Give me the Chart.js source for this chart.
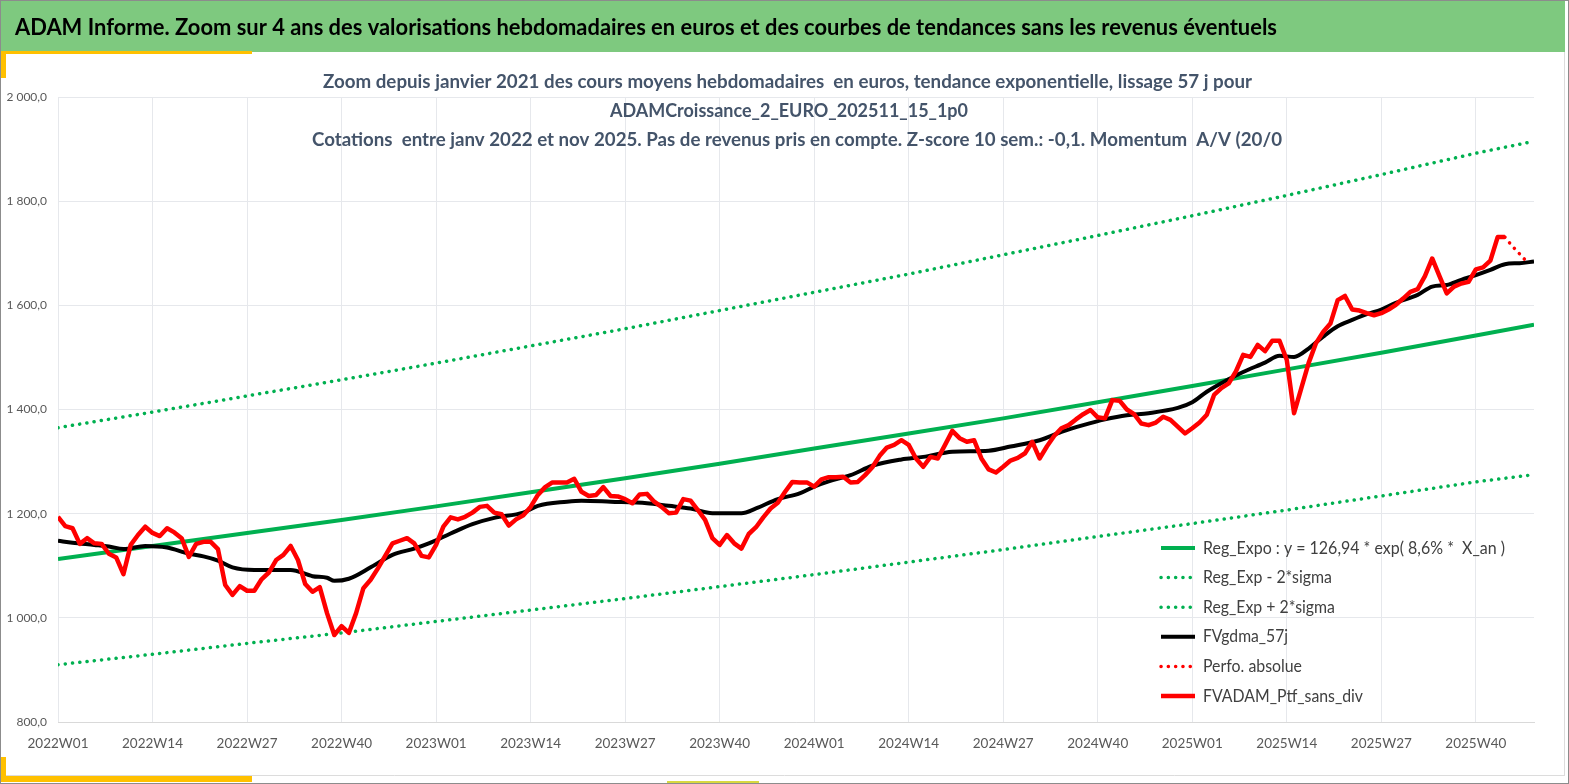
<!DOCTYPE html>
<html>
<head>
<meta charset="UTF-8" />
<title>ADAM Informe</title>
<style>
  html, body { margin: 0; padding: 0; background: #fff; }
  #wrap { position: relative; width: 1569px; height: 784px; }
</style>
</head>
<body>
<div id="wrap"><canvas id="myChart" width="1569" height="784"></canvas></div>

<script src="https://cdn.jsdelivr.net/npm/chart.js"></script>
<script>
// x axis tick labels, one every 13 weeks (index 0 = 2022W01)
const tickLabels = ['2022W01','2022W14','2022W27','2022W40','2023W01','2023W14','2023W27','2023W40',
                    '2024W01','2024W14','2024W27','2024W40','2025W01','2025W14','2025W27','2025W40'];

// trend curves, read at the gridlines
const trendWeeks = [0,13,26,39,52,65,78,91,104,117,130,143,156,169,182,195,203];
const regExpo = [1113,1138,1163,1188,1214,1241,1268,1296,1325,1354,1383,1414,1445,1477,1509,1542,1563];
const regLow  = [910,930,951,971,993,1015,1037,1060,1083,1107,1131,1156,1181,1207,1234,1261,1275];
const regHigh = [1365,1395,1426,1457,1489,1522,1555,1590,1625,1660,1697,1734,1772,1811,1851,1892,1915];

// weekly valuation FVADAM_Ptf_sans_div (weeks 0..199)
const ptfValues = [
  1194,1176,1172,1142,1153,1143,1142,1123,1116,1084,1140,1159,1175,1163,1157,1172,1164,1153,1117,1142,
  1146,1146,1132,1063,1044,1061,1052,1052,1074,1087,1111,1121,1138,1111,1065,1050,1059,1009,967,984,
  971,1009,1057,1073,1095,1119,1143,1148,1153,1143,1119,1116,1140,1175,1193,1189,1194,1202,1213,1215,
  1202,1199,1177,1189,1197,1213,1236,1251,1260,1260,1260,1267,1242,1234,1236,1251,1234,1233,1228,1220,
  1237,1238,1223,1213,1201,1202,1228,1225,1207,1188,1153,1140,1159,1143,1133,1161,1174,1193,1210,1221,
  1242,1261,1260,1260,1252,1266,1270,1270,1271,1260,1261,1274,1289,1311,1327,1332,1341,1332,1306,1290,
  1309,1306,1332,1359,1345,1338,1341,1306,1285,1279,1290,1302,1307,1316,1338,1306,1329,1349,1364,1370,
  1381,1391,1399,1385,1383,1418,1417,1400,1391,1373,1370,1375,1386,1380,1367,1354,1364,1375,1390,1428,
  1441,1450,1473,1505,1501,1524,1512,1532,1532,1495,1393,1441,1489,1527,1549,1565,1610,1618,1592,1590,
  1585,1581,1585,1592,1601,1613,1626,1631,1656,1690,1656,1623,1636,1642,1645,1669,1673,1686,1731,1731
];

// smoothed curve FVgdma_57j
const gdmaWeeks  = [0,2,5,7,9,12,15,18,20,22,24,27,32,35,37,38,40,43,46,49,51,54,57,60,64,66,70,72,76,81,
                    84,87,90,94,96,99,102,104,106,109,112,116,119,123,128,131,135,138,141,144,147,150,154,156,158,
                    161,163,166,168,170,172,174,176,178,180,182,184,187,189,191,193,195,197,199,201,203];
const gdmaValues = [1148,1144,1140,1137,1132,1138,1135,1123,1118,1110,1097,1092,1092,1080,1077,1071,1075,1097,1121,1133,
                    1143,1162,1180,1192,1202,1215,1223,1225,1223,1220,1215,1210,1201,1201,1210,1228,1239,1252,1262,1274,
                    1292,1304,1309,1319,1321,1329,1341,1357,1370,1381,1389,1393,1403,1414,1434,1458,1472,1490,1503,1501,
                    1517,1540,1560,1572,1583,1592,1605,1620,1636,1639,1649,1658,1668,1679,1681,1684];

// Perfo. absolue (dotted end)
const perfWeeks  = [199,200,201,202];
const perfValues = [1731,1714,1699,1684];

const pts = (xs, ys) => ys.map((v, k) => ({ x: xs[k], y: v }));
const ptfWeeks = ptfValues.map((v, i) => i);

function frNum(v) {
  const s = v.toFixed(1).split('.');
  return s[0].replace(/\B(?=(\d{3})+(?!\d))/g, ' ') + ',' + s[1];
}

// text squeezed/stretched to a target width (the original uses Calibri)
function fitText(ctx, text, x, y, width) {
  const w = ctx.measureText(text).width;
  ctx.save();
  ctx.translate(x, y);
  ctx.scale(width / w, 1);
  ctx.fillText(text, 0, 0);
  ctx.restore();
}

const dotted = [0.1, 7.2];

const data = {
  datasets: [
    { label: 'Reg_Expo : y = 126,94 * exp( 8,6% *  X_an )', data: pts(trendWeeks, regExpo),
      borderColor: '#00b050', borderWidth: 4, order: 3 },
    { label: 'Reg_Exp - 2*sigma', data: pts(trendWeeks, regLow),
      borderColor: '#00b050', borderWidth: 3.5, borderDash: dotted, borderCapStyle: 'round', order: 4 },
    { label: 'Reg_Exp + 2*sigma', data: pts(trendWeeks, regHigh),
      borderColor: '#00b050', borderWidth: 3.5, borderDash: dotted, borderCapStyle: 'round', order: 5 },
    { label: 'FVgdma_57j', data: pts(gdmaWeeks, gdmaValues),
      borderColor: '#000000', borderWidth: 4, cubicInterpolationMode: 'monotone', order: 2 },
    { label: 'Perfo. absolue', data: pts(perfWeeks, perfValues),
      borderColor: '#ff0000', borderWidth: 3.5, borderDash: dotted, borderCapStyle: 'round', order: 1 },
    { label: 'FVADAM_Ptf_sans_div', data: pts(ptfWeeks, ptfValues),
      borderColor: '#ff0000', borderWidth: 4.5, borderJoinStyle: 'round', order: 0 }
  ]
};

// header, frame and selection handles
const framePlugin = {
  id: 'frame',
  beforeDraw(chart) {
    const ctx = chart.ctx;
    ctx.save();
    ctx.fillStyle = '#ffffff';
    ctx.fillRect(0, 0, 1569, 784);
    ctx.fillStyle = '#7ec97f';
    ctx.fillRect(1, 1, 1564, 51);
    ctx.strokeStyle = '#dcdcdc';
    ctx.lineWidth = 1;
    ctx.beginPath();
    ctx.moveTo(5, 775.5); ctx.lineTo(1564, 775.5);
    ctx.moveTo(1564.5, 52); ctx.lineTo(1564.5, 776);
    ctx.stroke();
    ctx.fillStyle = '#ffc000';
    ctx.fillRect(0, 51, 252, 3);
    ctx.fillRect(0, 52, 6, 26);
    ctx.fillRect(0, 757, 6, 25);
    ctx.fillRect(0, 776, 252, 6);
    ctx.fillStyle = '#d8d840';
    ctx.fillRect(667, 781, 92, 3);
    ctx.strokeStyle = '#8c8c8c';
    ctx.strokeRect(0.5, 0.5, 1568, 783);
    ctx.fillStyle = '#000000';
    ctx.font = 'bold 22.5px Lato';
    ctx.textBaseline = 'middle';
    fitText(ctx, 'ADAM Informe. Zoom sur 4 ans des valorisations hebdomadaires en euros et des courbes de tendances sans les revenus éventuels', 15, 28, 1262);
    ctx.restore();
  },
  afterDraw(chart) {
    const ctx = chart.ctx;
    ctx.save();
    // chart title
    ctx.fillStyle = '#44546a';
    ctx.font = 'bold 18px Lato';
    ctx.textBaseline = 'middle';
    fitText(ctx, 'Zoom depuis janvier 2021 des cours moyens hebdomadaires  en euros, tendance exponentielle, lissage 57 j pour', 323, 82, 929);
    fitText(ctx, 'ADAMCroissance_2_EURO_202511_15_1p0', 610, 111, 358);
    fitText(ctx, 'Cotations  entre janv 2022 et nov 2025. Pas de revenus pris en compte. Z-score 10 sem.: -0,1. Momentum  A/V (20/0', 312, 140, 970);
    // legend
    const widths = [302, 129, 132, 85, 99, 160];
    ctx.font = '17.5px Lato';
    chart.data.datasets.forEach((ds, k) => {
      const y = 548 + k * 29.6;
      ctx.strokeStyle = ds.borderColor;
      ctx.lineWidth = ds.borderWidth;
      ctx.lineCap = ds.borderDash ? 'round' : 'butt';
      ctx.setLineDash(ds.borderDash || []);
      ctx.beginPath();
      ctx.moveTo(1161, y); ctx.lineTo(1195, y);
      ctx.stroke();
      ctx.setLineDash([]);
      ctx.fillStyle = '#404040';
      fitText(ctx, ds.label, 1203, y, widths[k]);
    });
    ctx.restore();
  }
};

const config = {
  type: 'line',
  data,
  options: {
    responsive: false,
    animation: false,
    layout: { padding: { top: 97, right: 35, bottom: 22, left: 0 } },
    elements: { point: { radius: 0 }, line: { tension: 0 } },
    plugins: { legend: { display: false }, tooltip: { enabled: false } },
    scales: {
      x: {
        type: 'linear', min: 0, max: 203,
        afterBuildTicks: (scale) => { scale.ticks = tickLabels.map((t, k) => ({ value: k * 13 })); },
        afterFit: (scale) => { scale.height = 40; },
        grid: { color: '#e6e8ec', drawTicks: false },
        border: { color: '#d9d9d9' },
        ticks: {
          autoSkip: false, maxRotation: 0, padding: 14,
          color: '#595959', font: { family: 'Lato', size: 13.5 },
          callback: (v) => tickLabels[Math.round(v / 13)]
        }
      },
      y: {
        min: 800, max: 2000,
        afterFit: (scale) => { scale.width = 58; },
        grid: { color: '#e6e8ec', drawTicks: false },
        border: { display: false },
        ticks: {
          stepSize: 200, padding: 11,
          color: '#595959', font: { family: 'Lato', size: 12 },
          callback: (v) => frNum(v)
        }
      }
    }
  },
  plugins: [framePlugin]
};

const myChart = new Chart(document.getElementById('myChart'), config);
</script>
</body>
</html>
